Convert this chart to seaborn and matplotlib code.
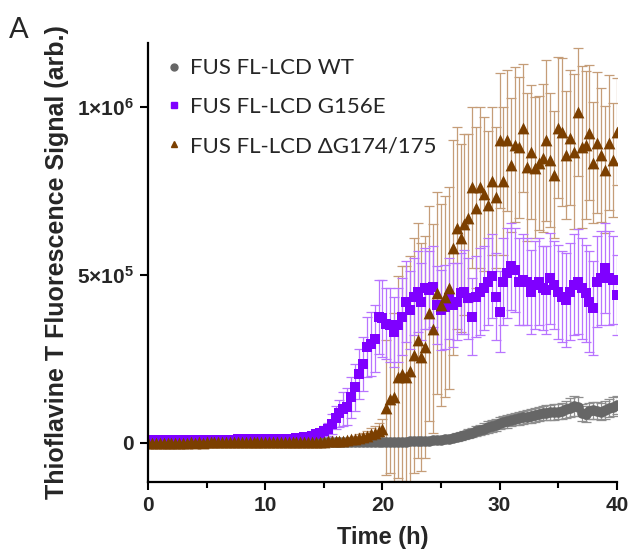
import numpy as np
import pandas as pd
import seaborn as sns
import matplotlib.pyplot as plt
from matplotlib.lines import Line2D

# plate reader read every 20 min, 0-40 h
time_min = list(range(0, 2401, 20))

# ThT signal, units of 1e5 (arb.)
wt_mean = [0.00, 0.00, 0.01, 0.00, 0.01, 0.01, 0.00, 0.01, 0.01, 0.01,
           0.01, 0.00, 0.01, 0.01, 0.01, 0.00, 0.01, 0.01, 0.01, 0.01,
           0.01, 0.01, 0.01, 0.01, 0.01, 0.01, 0.01, 0.01, 0.01, 0.01,
           0.01, 0.01, 0.02, 0.01, 0.01, 0.02, 0.01, 0.02, 0.02, 0.01,
           0.02, 0.02, 0.01, 0.02, 0.02, 0.02, 0.02, 0.01, 0.02, 0.02,
           0.02, 0.02, 0.02, 0.02, 0.02, 0.02, 0.02, 0.02, 0.02, 0.02,
           0.02, 0.02, 0.02, 0.03, 0.03, 0.03, 0.03, 0.04, 0.04, 0.05,
           0.05, 0.06, 0.06, 0.07, 0.08, 0.08, 0.10, 0.12, 0.14, 0.17,
           0.20, 0.23, 0.27, 0.30, 0.34, 0.38, 0.42, 0.47, 0.50, 0.53,
           0.58, 0.62, 0.64, 0.68, 0.71, 0.73, 0.76, 0.78, 0.80, 0.83,
           0.86, 0.89, 0.90, 0.91, 0.92, 0.93, 0.95, 1.00, 1.05, 1.10,
           1.08, 0.90, 0.86, 0.95, 0.97, 0.95, 0.92, 0.98, 1.04, 1.08,
           1.12]
wt_err = [0.01, 0.01, 0.01, 0.01, 0.01, 0.01, 0.01, 0.01, 0.01, 0.01,
          0.01, 0.01, 0.01, 0.01, 0.01, 0.01, 0.01, 0.01, 0.01, 0.01,
          0.01, 0.01, 0.01, 0.01, 0.01, 0.01, 0.01, 0.01, 0.01, 0.01,
          0.01, 0.01, 0.01, 0.01, 0.01, 0.01, 0.01, 0.01, 0.01, 0.01,
          0.01, 0.01, 0.01, 0.01, 0.01, 0.01, 0.01, 0.01, 0.01, 0.01,
          0.01, 0.01, 0.01, 0.01, 0.01, 0.01, 0.01, 0.01, 0.01, 0.01,
          0.02, 0.02, 0.03, 0.03, 0.03, 0.04, 0.04, 0.05, 0.05, 0.06,
          0.06, 0.07, 0.07, 0.08, 0.08, 0.09, 0.09, 0.10, 0.10, 0.11,
          0.11, 0.12, 0.13, 0.14, 0.15, 0.16, 0.16, 0.17, 0.17, 0.18,
          0.18, 0.18, 0.19, 0.19, 0.19, 0.20, 0.20, 0.20, 0.21, 0.21,
          0.21, 0.22, 0.22, 0.22, 0.23, 0.23, 0.24, 0.25, 0.27, 0.30,
          0.28, 0.25, 0.24, 0.24, 0.25, 0.25, 0.25, 0.26, 0.27, 0.28,
          0.27]

g156e_mean = [0.08, 0.08, 0.08, 0.08, 0.08, 0.08, 0.08, 0.08, 0.08, 0.08,
              0.08, 0.09, 0.09, 0.09, 0.09, 0.09, 0.09, 0.09, 0.09, 0.09,
              0.09, 0.09, 0.09, 0.10, 0.10, 0.10, 0.10, 0.10, 0.10, 0.10,
              0.10, 0.10, 0.11, 0.11, 0.11, 0.11, 0.12, 0.12, 0.13, 0.14,
              0.16, 0.18, 0.20, 0.25, 0.30, 0.35, 0.40, 0.55, 0.75, 0.88,
              1.00, 1.08, 1.35, 1.65, 2.05, 2.35, 2.85, 2.95, 3.10, 3.75,
              3.70, 3.55, 3.50, 3.30, 3.50, 3.75, 4.20, 3.95, 4.35, 4.50,
              4.20, 4.60, 4.55, 4.65, 4.10, 3.95, 4.05, 4.30, 4.10, 4.20,
              4.45, 4.50, 4.30, 3.75, 4.35, 4.50, 4.60, 4.80, 4.95, 4.35,
              3.90, 4.80, 5.05, 5.25, 5.15, 4.80, 4.85, 4.80, 4.50, 4.70,
              4.80, 4.60, 4.55, 4.90, 4.70, 4.50, 4.35, 4.25, 4.50, 4.70,
              4.80, 4.60, 4.45, 4.20, 4.00, 4.80, 4.90, 5.20, 4.90, 4.85,
              4.40]
g156e_err = [0.02, 0.02, 0.02, 0.02, 0.02, 0.02, 0.02, 0.02, 0.02, 0.02,
             0.02, 0.02, 0.02, 0.02, 0.02, 0.02, 0.02, 0.02, 0.02, 0.02,
             0.02, 0.02, 0.02, 0.02, 0.02, 0.02, 0.02, 0.02, 0.02, 0.02,
             0.03, 0.03, 0.03, 0.03, 0.03, 0.03, 0.03, 0.03, 0.03, 0.03,
             0.04, 0.05, 0.06, 0.08, 0.10, 0.15, 0.20, 0.30, 0.35, 0.40,
             0.50, 0.55, 0.60, 0.70, 0.75, 0.80, 0.90, 0.95, 1.00, 1.10,
             1.15, 1.05, 1.10, 1.05, 1.10, 1.15, 1.20, 1.15, 1.15, 1.20,
             1.15, 1.20, 1.15, 1.20, 1.15, 1.20, 1.25, 1.20, 1.25, 1.15,
             1.20, 1.25, 1.20, 1.15, 1.20, 1.30, 1.25, 1.30, 1.25, 1.30,
             1.20, 1.30, 1.35, 1.30, 1.25, 1.30, 1.35, 1.30, 1.25, 1.30,
             1.30, 1.25, 1.30, 1.35, 1.30, 1.40, 1.35, 1.40, 1.45, 1.50,
             1.55, 1.50, 1.45, 1.50, 1.40, 1.35, 1.40, 1.35, 1.40, 1.30,
             1.20]

dg_mean = [0.00, 0.00, 0.00, 0.00, 0.00, 0.00, 0.00, 0.00, 0.00, 0.00,
           0.00, 0.01, 0.00, 0.01, 0.00, 0.01, 0.01, 0.01, 0.01, 0.01,
           0.01, 0.01, 0.01, 0.01, 0.01, 0.01, 0.01, 0.01, 0.01, 0.01,
           0.01, 0.01, 0.01, 0.01, 0.02, 0.02, 0.02, 0.02, 0.02, 0.02,
           0.02, 0.02, 0.03, 0.03, 0.03, 0.03, 0.04, 0.04, 0.05, 0.05,
           0.06, 0.08, 0.10, 0.12, 0.15, 0.18, 0.21, 0.25, 0.30, 0.35,
           0.42, 1.05, 1.30, 1.35, 1.95, 2.05, 1.95, 2.15, 2.60, 3.05,
           2.55, 2.85, 3.85, 3.40, 4.45, 4.10, 4.35, 4.60, 5.80, 6.40,
           6.10, 6.50, 6.70, 7.60, 7.00, 7.60, 7.40, 7.08, 7.80, 7.30,
           9.00, 7.80, 9.00, 8.27, 8.87, 8.80, 9.37, 8.20, 8.66, 8.18,
           8.33, 8.48, 9.00, 8.42, 7.98, 9.37, 9.26, 8.57, 9.08, 8.66,
           9.85, 8.80, 8.87, 9.23, 8.33, 8.93, 8.57, 8.13, 8.93, 8.42,
           9.26]
dg_err = [0.02, 0.02, 0.02, 0.02, 0.02, 0.02, 0.02, 0.02, 0.02, 0.02,
          0.02, 0.02, 0.02, 0.02, 0.02, 0.02, 0.02, 0.02, 0.02, 0.02,
          0.02, 0.02, 0.02, 0.02, 0.02, 0.02, 0.02, 0.02, 0.02, 0.02,
          0.03, 0.03, 0.03, 0.03, 0.03, 0.03, 0.03, 0.03, 0.03, 0.03,
          0.03, 0.03, 0.03, 0.03, 0.03, 0.03, 0.03, 0.03, 0.03, 0.03,
          0.04, 0.05, 0.06, 0.08, 0.10, 0.12, 0.15, 0.18, 0.20, 0.25,
          0.30, 2.00, 2.20, 2.50, 3.00, 3.20, 3.30, 3.40, 3.50, 3.50,
          3.40, 3.30, 3.20, 3.10, 3.00, 3.00, 3.00, 3.00, 3.20, 3.00,
          2.80, 2.70, 2.50, 2.40, 2.40, 2.40, 2.30, 2.20, 2.20, 2.10,
          2.00, 2.20, 2.10, 2.00, 2.30, 2.10, 1.90, 2.20, 2.00, 2.10,
          2.00, 2.20, 2.40, 2.00, 1.90, 2.10, 2.20, 1.90, 2.00, 2.30,
          1.90, 2.40, 2.20, 2.00, 1.80, 2.10, 2.00, 1.90, 2.00, 1.70,
          1.60]

labels = ["FUS FL-LCD WT", "FUS FL-LCD G156E", "FUS FL-LCD \u0394G174/175"]
SCALE = 1e5


def main():
    sns.set_theme(style="ticks")
    plt.rcParams["font.family"] = ["Liberation Sans", "DejaVu Sans"]
    plt.rcParams["mathtext.fontset"] = "custom"
    plt.rcParams["mathtext.bf"] = "Liberation Sans:bold"
    plt.rcParams["mathtext.rm"] = "Liberation Sans"

    t = np.array(time_min) / 60.0
    series = [
        # label, mean, err, marker colour, bar colour, marker, size, zorder marks, zorder bars
        (labels[2], dg_mean, dg_err, "#7B3F00", "#C59D78", "^", 72, 2.1, 1.5),
        (labels[1], g156e_mean, g156e_err, "#7F00FF", "#B874FF", "s", 60, 2.0, 1.6),
        (labels[0], wt_mean, wt_err, "#666666", "#8E8E8E", "o", 58, 1.8, 1.7),
    ]

    fig = plt.figure(figsize=(6.3, 5.5), dpi=100)
    ax = fig.add_axes([0.235, 0.124, 0.744, 0.798])

    for name, mean, err, mc, ec, mk, size, zm, ze in series:
        y = np.array(mean) * SCALE
        e = np.array(err) * SCALE
        ax.errorbar(t, y, yerr=e, fmt="none", ecolor=ec, elinewidth=0.9,
                    capsize=3.5, capthick=0.9, zorder=ze)
        df = pd.DataFrame({"time": t, "signal": y})
        sns.scatterplot(data=df, x="time", y="signal", ax=ax, marker=mk,
                        color=mc, s=size, linewidth=0, zorder=zm, legend=False)

    ax.set_xlim(0, 40)
    ax.set_ylim(-1.16e5, 1.19e6)
    ax.set_xticks([0, 10, 20, 30, 40])
    ax.set_xticks([5, 15, 25, 35], minor=True)
    ax.set_xticklabels(["0", "10", "20", "30", "40"], fontweight="bold", fontsize=15)
    ax.set_yticks([0, 5e5, 1e6])
    ax.set_yticklabels(["0", r"$\mathbf{5{\times}10^{5}}$", r"$\mathbf{1{\times}10^{6}}$"],
                       fontweight="bold", fontsize=15)
    ax.tick_params(axis="both", which="major", length=6, width=1.5, color="black", pad=4)
    ax.tick_params(axis="x", which="minor", length=4, width=1.5, color="black")
    ax.set_xlabel("Time (h)", fontsize=17, fontweight="bold", labelpad=8)
    ax.set_ylabel("Thioflavine T Fluorescence Signal (arb.)", fontsize=18,
                  fontweight="bold", labelpad=6)
    for side in ["left", "bottom"]:
        ax.spines[side].set_linewidth(1.6)
        ax.spines[side].set_color("black")
    sns.despine(ax=ax)

    handles = [
        Line2D([], [], ls="", marker="o", color="#666666", markersize=5),
        Line2D([], [], ls="", marker="s", color="#7F00FF", markersize=5),
        Line2D([], [], ls="", marker="^", color="#7B3F00", markersize=5),
    ]
    ax.legend(handles, labels, loc="upper left", bbox_to_anchor=(0.025, 0.985),
              frameon=False, handlelength=0.5, handletextpad=0.45,
              labelspacing=0.85, borderaxespad=0,
              prop={"family": ["Lato", "DejaVu Sans"], "size": 16})

    fig.text(0.014, 0.945, "A", fontsize=21, va="center",
             family=["Lato", "DejaVu Sans"])

    fig.savefig("out.png", dpi=100)


if __name__ == "__main__":
    main()
